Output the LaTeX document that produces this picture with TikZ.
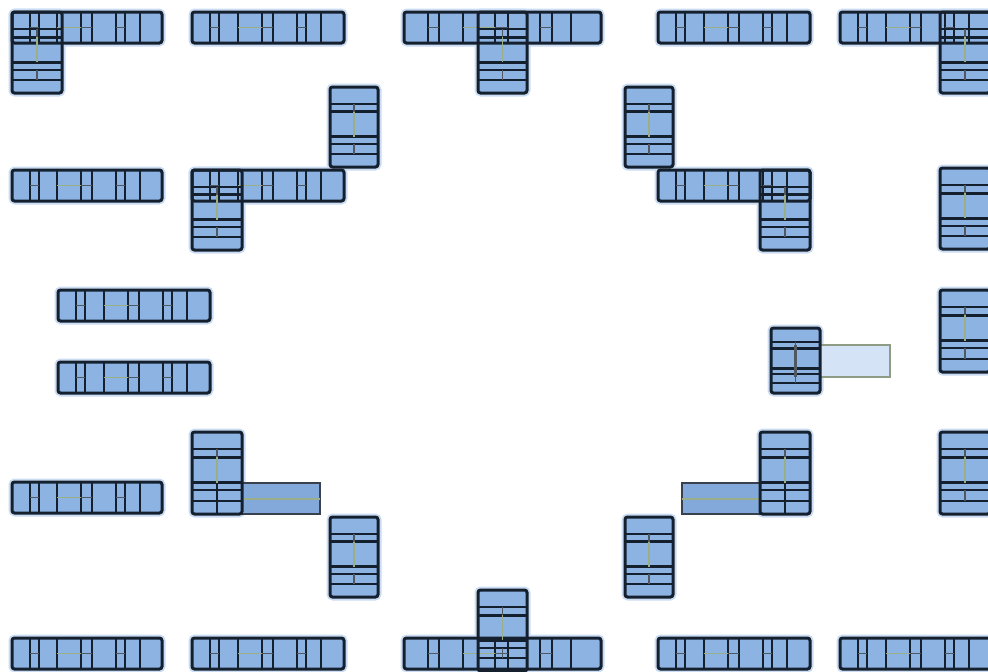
\documentclass[tikz,border=0pt]{standalone}
\definecolor{barblue}{HTML}{8DB3E3}
\definecolor{lineblk}{HTML}{15202E}
\definecolor{haloc}{HTML}{CADCF3}
\definecolor{stripblue}{HTML}{82A9DA}
\definecolor{paleblue}{HTML}{D4E3F6}
\definecolor{grayg}{HTML}{8E9C86}
\definecolor{tintg}{HTML}{9AAE88}
\pgfdeclarelayer{bg}
\pgfsetlayers{bg,main}
\tikzset{
 halo/.style={draw=haloc, line width=7pt, rounded corners=3pt},
 barbody/.style={fill=barblue, draw=none, rounded corners=2pt},
 barline/.style={draw=lineblk, line width=2pt},
 barthick/.style={draw=lineblk, line width=2.8pt},
 barmid/.style={draw=lineblk!75, line width=1.1pt},
 baredge/.style={draw=lineblk, line width=3pt, rounded corners=2.5pt},
 tint/.style={draw=tintg, line width=1.2pt},
 stripbox/.style={fill=stripblue, draw=lineblk!85, line width=1.4pt},
 palebox/.style={fill=paleblue, draw=grayg, line width=1.8pt},
}
% horizontal bar parts: {x}{y}{width}
\newcommand\HBfill[3]{%
\begin{scope}[shift={(#1,#2)}]
 \begin{pgfonlayer}{bg}\path[halo] (0,0) rectangle (#3,31);\end{pgfonlayer}
 \path[barbody] (0,0) rectangle (#3,31);
\end{scope}}
\newcommand\HBlines[3]{%
\begin{scope}[shift={(#1,#2)}]
 \foreach \f in {0.12,0.18,0.30,0.46,0.53,0.69,0.75,0.85}{\draw[barline] (\f*#3,0) -- (\f*#3,31);}
 \foreach \a/\b in {0.12/0.18,0.46/0.53,0.69/0.75}{\draw[barmid] (\a*#3,15.5) -- (\b*#3,15.5);}
 \draw[tint] (0.30*#3,15.5) -- (0.46*#3,15.5);
 \path[baredge] (0,0) rectangle (#3,31);
\end{scope}}
% vertical bar parts: {x}{y}{width}{height}
\newcommand\VBfill[4]{%
\begin{scope}[shift={(#1,#2)}]
 \begin{pgfonlayer}{bg}\path[halo] (0,0) rectangle (#3,#4);\end{pgfonlayer}
 \path[barbody] (0,0) rectangle (#3,#4);
\end{scope}}
\newcommand\VBlines[4]{%
\begin{scope}[shift={(#1,#2)}]
 \foreach \f in {0.21,0.71,0.84}{\draw[barline] (0,\f*#4) -- (#3,\f*#4);}
 \foreach \f in {0.31,0.62}{\draw[barthick] (0,\f*#4) -- (#3,\f*#4);}
 \draw[tint] (0.5*#3,0.31*#4) -- (0.5*#3,0.62*#4);
 \draw[barmid] (0.5*#3,0.21*#4) -- (0.5*#3,0.31*#4);
 \draw[barmid] (0.5*#3,0.71*#4) -- (0.5*#3,0.84*#4);
 \path[baredge] (0,0) rectangle (#3,#4);
\end{scope}}
\newcommand\myhbar[3]{\HBfill{#1}{#2}{#3}\HBlines{#1}{#2}{#3}}
\newcommand\myvbar[4]{\VBfill{#1}{#2}{#3}{#4}\VBlines{#1}{#2}{#3}{#4}}
% composite: H {x}{y}{w} with V {x}{y}{w}{h}
\newcommand\mycombo[7]{\HBfill{#1}{#2}{#3}\VBfill{#4}{#5}{#6}{#7}%
 \HBlines{#1}{#2}{#3}\VBlines{#4}{#5}{#6}{#7}}
\begin{document}
\begin{tikzpicture}[x=1pt,y=-1pt]
\useasboundingbox (0,0) rectangle (988,672);
\clip (0,0) rectangle (988,672);
% ---- row 1
\mycombo{12}{12}{150}{12}{12}{50}{81}
\myhbar{192}{12}{152}
\mycombo{404}{12}{197}{478}{12}{49}{81}
\myhbar{658}{12}{152}
\mycombo{840}{12}{152}{940}{12}{50}{81}
% ---- row 2
\myvbar{330}{87}{48}{80}
\myvbar{625}{87}{48}{80}
% ---- row 3
\myhbar{12}{170}{150}
\mycombo{192}{170}{152}{192}{170}{50}{80}
\mycombo{658}{170}{152}{760}{170}{50}{80}
\myvbar{940}{168}{50}{81}
% ---- row 4
\myhbar{58}{290}{152}
\myhbar{58}{362}{152}
\path[palebox] (820,345) rectangle (890,377);
\myvbar{771}{328}{49}{65}
\draw[lineblk!75, line width=2.4pt] (795.5,345) -- (795.5,377);
\myvbar{940}{290}{50}{82}
% ---- row 5
\myhbar{12}{482}{150}
\path[stripbox] (242,483) rectangle (320,514);
\draw[tint] (242,499) -- (320,499);
\myvbar{192}{432}{50}{82}
\draw[barline] (217,483) -- (217,514);
\path[stripbox] (682,483) rectangle (760,514);
\draw[tint] (682,499) -- (760,499);
\myvbar{760}{432}{50}{82}
\draw[barline] (785,483) -- (785,514);
\myvbar{940}{432}{50}{82}
% ---- row 6
\myvbar{330}{517}{48}{80}
\myvbar{625}{517}{48}{80}
% ---- row 7
\myhbar{12}{638}{150}
\myhbar{192}{638}{152}
\mycombo{404}{638}{197}{478}{590}{49}{81}
\myhbar{658}{638}{152}
\myhbar{840}{638}{152}
\end{tikzpicture}
\end{document}
